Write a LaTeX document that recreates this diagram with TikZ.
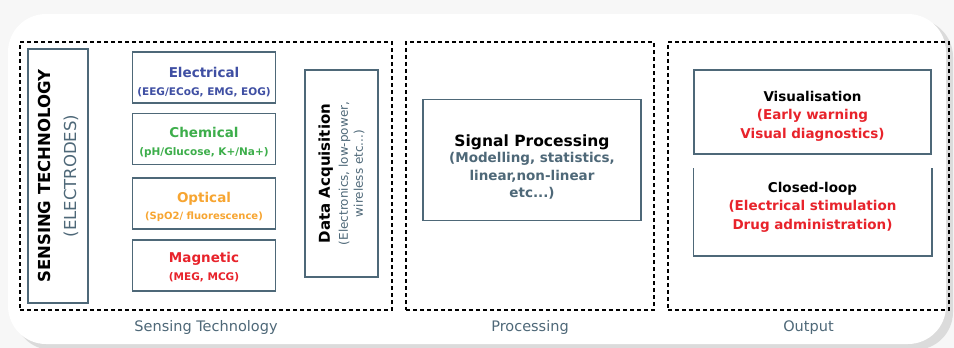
\documentclass[tikz,border=0pt]{standalone}
\usepackage{fontspec}
\setmainfont{DejaVu Sans}
\usetikzlibrary{positioning}
\definecolor{slate}{HTML}{4E6878}
\definecolor{elblue}{HTML}{3F4FA3}
\definecolor{chgreen}{HTML}{3DAE4B}
\definecolor{oporange}{HTML}{F7A531}
\definecolor{mgred}{HTML}{E8232B}
\newcommand{\fs}[2]{\fontsize{#1}{#2}\selectfont}
\tikzset{
  group/.style={draw=black, line width=1.6pt, dash pattern=on 4pt off 3pt},
  blk/.style={draw=slate, line width=1.5pt, align=center, inner sep=2pt},
  smallblk/.style={blk, minimum width=143pt, minimum height=51pt, font=\fs{13.5}{17.5}\bfseries},
  outblk/.style={blk, minimum width=237pt, font=\fs{13.5}{18.5}\bfseries},
  grouplabel/.style={text=slate, font=\fs{14.5}{16}},
}
\begin{document}
\begin{tikzpicture}[x=1pt,y=-1pt]
  \useasboundingbox (0,0) rectangle (954,348);
  % card
  \fill[gray!6] (0,0) rectangle (954,348);
  \fill[gray!28, rounded corners=38pt] (14,19) rectangle (953,350);
  \fill[white, rounded corners=38pt] (8,14) rectangle (946,344);

  % groups
  \node[group, minimum width=372pt, minimum height=268pt] (sensgrp) at (206,176) {};
  \node[group, minimum width=248pt, minimum height=268pt] (procgrp) at (530,176) {};
  \node[group, minimum width=281pt, minimum height=268pt] (outgrp) at (808.5,176) {};
  \node[grouplabel, below=6pt of sensgrp] (senslbl) {Sensing Technology};
  \node[grouplabel, below=6pt of procgrp] (proclbl) {Processing};
  \node[grouplabel, below=6pt of outgrp] (outlbl) {Output};

  % sensing
  \node[blk, minimum width=254pt, minimum height=60pt, rotate=90, font=\fs{16.5}{26}] (sense) at (58,176)
    {\textbf{SENSING TECHNOLOGY}\\\textcolor{slate}{(ELECTRODES)}};
  \node[smallblk, text=elblue] (elec) at (204,77.5)
    {\rule{0pt}{19pt}Electrical\\{\fs{10.5}{11}(EEG/ECoG, EMG, EOG)}};
  \node[smallblk, text=chgreen] (chem) at (204,139)
    {\rule{0pt}{17pt}Chemical\\{\fs{10.5}{11}(pH/Glucose, K+/Na+)}};
  \node[smallblk, text=oporange] (opt) at (204,203.5)
    {\rule{0pt}{17pt}Optical\\{\fs{10}{11}(SpO2/ fluorescence)}};
  \node[smallblk, text=mgred] (magn) at (204,265.5)
    {\rule{0pt}{13pt}Magnetic\\{\fs{10.5}{11}(MEG, MCG)}};
  \node[blk, minimum width=207pt, minimum height=73pt, rotate=90, font=\fs{12}{15}] (daq) at (341.5,173.5)
    {{\fs{15}{18}\bfseries Data Acquisition}\\[3pt]{\fs{12}{15}\color{slate}(Electronics, low-power,}\\{\fs{12}{15}\color{slate}wireless etc...)}};

  % processing
  \node[blk, minimum width=218pt, minimum height=121pt, font=\fs{13.5}{17.5}\bfseries] (signal) at (532,160)
    {\rule{0pt}{26pt}{\fs{15.5}{18}Signal Processing}\\[-1pt]\textcolor{slate}{(Modelling, statistics,}\\\textcolor{slate}{linear,non-linear}\\\textcolor{slate}{etc...)}};

  % output
  \node[outblk, minimum height=84pt] (visual) at (812.5,112)
    {\rule{0pt}{18pt}Visualisation\\\textcolor{mgred}{(Early warning}\\\textcolor{mgred}{Visual diagnostics)}};
  \node[outblk, minimum height=86pt, draw=none] (closed) at (812.5,212)
    {Closed-loop\\\textcolor{mgred}{(Electrical stimulation}\\\textcolor{mgred}{Drug administration)}\rule[-13pt]{0pt}{13pt}};
  \draw[slate, line width=1.5pt] (closed.north west) -- (closed.south west) -- (closed.south east) -- (closed.north east);
\end{tikzpicture}
\end{document}
